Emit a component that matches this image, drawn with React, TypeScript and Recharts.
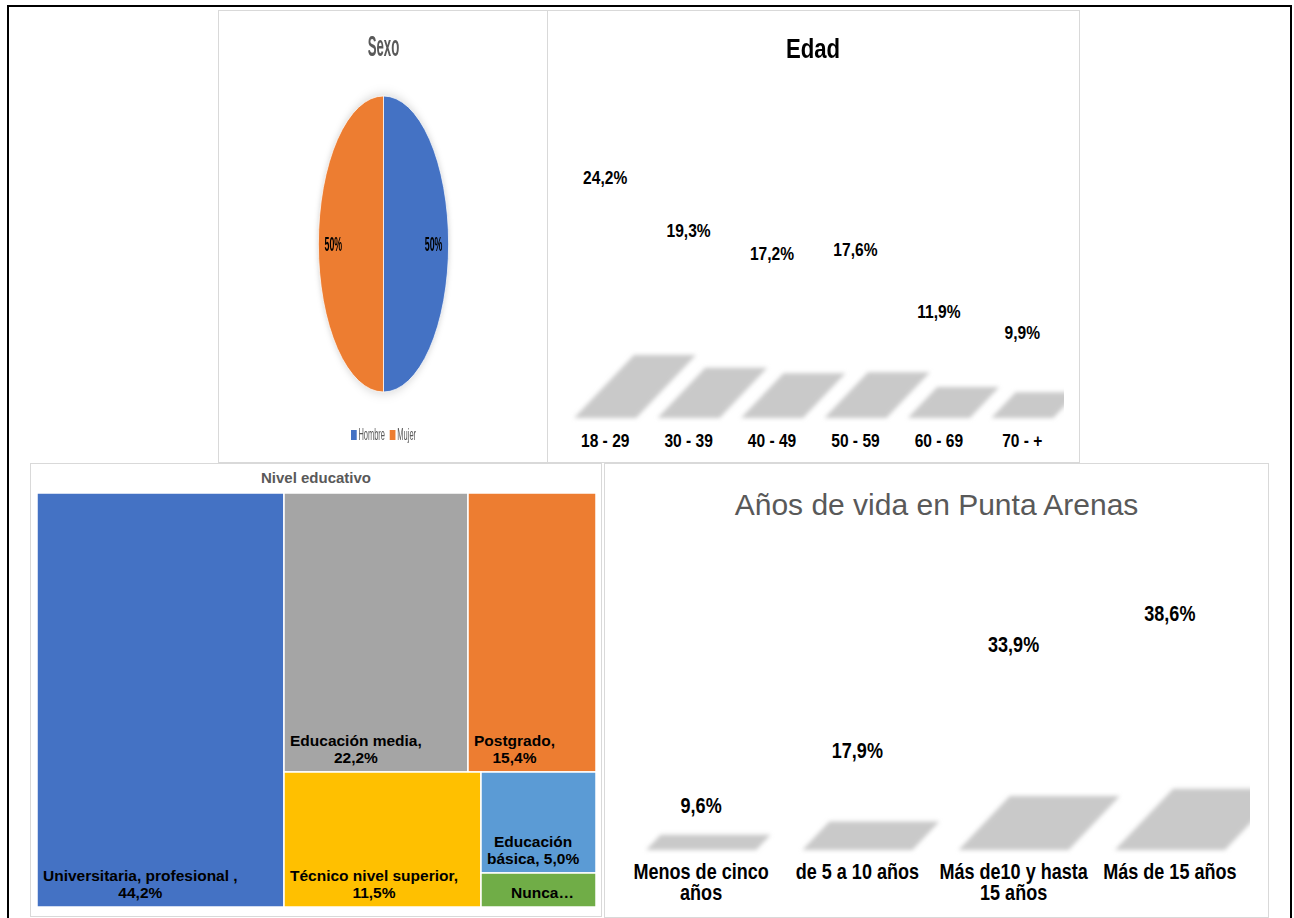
import React from 'react';
import { PieChart, Pie, Cell, BarChart, Bar, XAxis, YAxis, LabelList, Treemap } from 'recharts';

// ---------- data ----------
const sexNames = ['Hombre', 'Mujer'];
const sexValues = [50, 50];
const sexColors = ['#4472C4', '#ED7D31'];

const ageCategories = ['18 - 29', '30 - 39', '40 - 49', '50 - 59', '60 - 69', '70 - +'];
const ageValues = [24.2, 19.3, 17.2, 17.6, 11.9, 9.9];

const eduNames = ['Universitaria, profesional ', 'Educación media', 'Postgrado', 'Técnico nivel superior', 'Educación básica', 'Nunca asistió'];
const eduValues = [44.2, 22.2, 15.4, 11.5, 5.0, 1.7];
const eduColors = ['#4472C4', '#A5A5A5', '#ED7D31', '#FFC000', '#5B9BD5', '#70AD47'];

const yearsCategories = ['Menos de cinco años', 'de 5 a 10 años', 'Más de10 y hasta 15 años', 'Más de 15 años'];
const yearsValues = [9.6, 17.9, 33.9, 38.6];

// ---------- helpers ----------
const FONT = "'Liberation Sans', Arial, sans-serif";
const SQ = 0.82; // horizontal squeeze of the bar-chart texts
const fmt = (v: number) => v.toFixed(1).replace('.', ',') + '%';

let ctx: CanvasRenderingContext2D | null = null;
function measure(text: string, font: string) {
  if (!ctx) ctx = document.createElement('canvas').getContext('2d');
  if (!ctx) return text.length * 8;
  ctx.font = font;
  return ctx.measureText(text).width;
}
function wrap(text: string, font: string, maxW: number, scale = 1) {
  const words = text.split(' ').filter((w) => w.length);
  const lines: string[] = [];
  let cur = '';
  for (const w of words) {
    const t = cur ? cur + ' ' + w : w;
    if (cur && measure(t, font) * scale > maxW) {
      lines.push(cur);
      cur = w;
    } else cur = t;
  }
  if (cur) lines.push(cur);
  return lines;
}

const sexData = sexNames.map((n, i) => ({ name: n, value: sexValues[i] }));
const ageData = ageCategories.map((n, i) => ({ name: n, value: ageValues[i] }));
const eduData = eduNames.map((n, i) => ({ name: n, value: eduValues[i], tileColor: eduColors[i] }));
const yearsData = yearsCategories.map((n, i) => ({ name: n, value: yearsValues[i] }));

// ---------- shadow bars ----------
const makeShadow = (factor: number) => (props: any) => {
  const { x, y, width, height } = props;
  if (!isFinite(x) || !isFinite(y) || !height) return <g />;
  const base = y + height;
  const h = height * factor;
  const s = h * 0.95;
  const pts = `${x},${base} ${x + width},${base} ${x + width + s},${base - h} ${x + s},${base - h}`;
  return <polygon points={pts} fill="#c9c9c9" filter="url(#shadowBlur)" />;
};

const makeValueLabel = (offset: number, size: number) => (props: any) => {
  const vb = props.viewBox && props.viewBox.width !== undefined ? props.viewBox : props;
  const cx = Number(vb.x) + Number(vb.width) / 2;
  const cy = Number(vb.y) + offset;
  return (
    <text
      transform={`translate(${cx},${cy}) scale(${SQ},1)`}
      textAnchor="middle"
      dominantBaseline="central"
      fontFamily={FONT}
      fontWeight="bold"
      fontSize={size}
      fill="#000"
    >
      {fmt(Number(props.value))}
    </text>
  );
};

const AgeTick = (props: any) => {
  const { x, y, payload } = props;
  return (
    <text
      transform={`translate(${x},${y + 22}) scale(${SQ},1)`}
      textAnchor="middle"
      dominantBaseline="central"
      fontFamily={FONT}
      fontWeight="bold"
      fontSize={19}
      fill="#000"
    >
      {payload.value}
    </text>
  );
};

const YEARS_W = 645;
const YEARS_ML = 18;
const YEARS_MR = 2;
const YEARS_BAND = (YEARS_W - YEARS_ML - YEARS_MR) / yearsCategories.length;

const YearsTick = (props: any) => {
  const { x, y, payload } = props;
  const lines = wrap(String(payload.value), `bold 22px ${FONT}`, YEARS_BAND, SQ);
  return (
    <text
      transform={`translate(${x},${y + 21}) scale(${SQ},1)`}
      textAnchor="middle"
      dominantBaseline="central"
      fontFamily={FONT}
      fontWeight="bold"
      fontSize={22}
      fill="#000"
    >
      {lines.map((l, i) => (
        <tspan key={i} x={0} dy={i === 0 ? 0 : 21}>
          {l}
        </tspan>
      ))}
    </text>
  );
};

// ---------- pie ----------
const SX = 0.44;
const RAD = Math.PI / 180;
const sexLabel = (p: any) => {
  const r = p.outerRadius * 0.77;
  const x = p.cx + r * Math.cos(-p.midAngle * RAD);
  const y = p.cy + r * Math.sin(-p.midAngle * RAD);
  return (
    <text x={x} y={y} textAnchor="middle" dominantBaseline="central" fontFamily={FONT} fontWeight="bold" fontSize={20} fill="#000">
      {`${Math.round(p.percent * 100)}%`}
    </text>
  );
};

// ---------- treemap ----------
const TM_FONT_SIZE = 15.5;
const TM_FONT = `bold ${TM_FONT_SIZE}px ${FONT}`;
const TreemapCell = (props: any) => {
  const { x, y, width, height, depth, name, value, tileColor } = props;
  if (depth !== 1) return <g />;
  const maxW = width - 8;
  let lines = wrap(`${name}, ${fmt(Number(value))}`, TM_FONT, maxW);
  const maxLines = Math.max(1, Math.floor((height - 6) / 17));
  let truncated = false;
  if (lines.length > maxLines) {
    lines = lines.slice(0, maxLines);
    let words = lines[maxLines - 1].split(' ');
    while (words.length > 1 && measure(words.join(' ') + '…', TM_FONT) > maxW - 8) words = words.slice(0, -1);
    lines[maxLines - 1] = words.join(' ').replace(/,$/, '') + '…';
    truncated = true;
  }
  const blockW = Math.max(...lines.map((l) => measure(l, TM_FONT)));
  const cx = truncated ? x + width / 2 + 4 : x + 6 + blockW / 2;
  const lastBase = y + height - 9;
  return (
    <g>
      <rect x={x} y={y} width={width} height={height} fill={tileColor} stroke="#fff" strokeWidth={1.5} />
      <text textAnchor="middle" fontFamily={FONT} fontWeight="bold" fontSize={TM_FONT_SIZE} fill="#000">
        {lines.map((l, i) => (
          <tspan key={i} x={cx} y={lastBase - (lines.length - 1 - i) * 17}>
            {l}
          </tspan>
        ))}
      </text>
    </g>
  );
};

const panel = (left: number, top: number, width: number, height: number): React.CSSProperties => ({
  position: 'absolute',
  left,
  top,
  width,
  height,
  border: '1px solid #d9d9d9',
  boxSizing: 'border-box',
  background: '#fff',
});

export default function App() {
  const sexInnerW = 329 / SX;
  return (
    <div style={{ position: 'fixed', left: 0, top: 0, width: 1294, height: 918, background: '#fff', overflow: 'hidden', fontFamily: FONT }}>
      <svg width={0} height={0} style={{ position: 'absolute' }}>
        <defs>
          <filter id="shadowBlur" x="-50%" y="-50%" width="200%" height="200%">
            <feGaussianBlur stdDeviation="2.2" />
          </filter>
        </defs>
      </svg>

      {/* outer frame */}
      <div style={{ position: 'absolute', left: 7, top: 5, width: 1285, height: 930, border: '2px solid #000', boxSizing: 'border-box' }} />

      {/* ---- Sexo ---- */}
      <div style={{ ...panel(218, 10, 330, 453), overflow: 'hidden' }}>
        <div style={{ position: 'absolute', left: 0, top: 0, width: sexInnerW, height: 451, transform: `scaleX(${SX})`, transformOrigin: '0 0' }}>
          <div style={{ position: 'absolute', left: 0, top: 17, width: sexInnerW, height: 36, lineHeight: '36px', textAlign: 'center', fontSize: 30, fontWeight: 'bold', color: '#595959' }}>
            Sexo
          </div>
          <div style={{ position: 'absolute', left: 0, top: 0, filter: 'drop-shadow(0px 0px 6px rgba(0,0,0,0.18))' }}>
            <PieChart width={sexInnerW} height={451} margin={{ top: 0, right: 0, bottom: 0, left: 0 }}>
              <Pie
                data={sexData}
                dataKey="value"
                nameKey="name"
                cx={sexInnerW / 2}
                cy={233}
                outerRadius={148}
                startAngle={90}
                endAngle={-270}
                stroke="#fff"
                strokeWidth={1}
                label={sexLabel}
                labelLine={false}
                isAnimationActive={false}
              >
                {sexData.map((d, i) => (
                  <Cell key={d.name} fill={sexColors[i]} />
                ))}
              </Pie>
            </PieChart>
          </div>
          <div style={{ position: 'absolute', left: 0, top: 414, width: sexInnerW, height: 20, display: 'flex', justifyContent: 'center', alignItems: 'center', fontSize: 17, color: '#595959' }}>
            {sexNames.map((n, i) => (
              <div key={n} style={{ display: 'flex', alignItems: 'center', marginLeft: i ? 11 : 0 }}>
                <div style={{ width: 13, height: 10, background: sexColors[i], marginRight: 4 }} />
                <span>{n}</span>
              </div>
            ))}
          </div>
        </div>
      </div>

      {/* ---- Edad ---- */}
      <div style={panel(547, 10, 533, 453)}>
        <div style={{ position: 'absolute', left: 0, top: 21, width: 531, height: 34, lineHeight: '34px', textAlign: 'center' }}>
          <span style={{ display: 'inline-block', fontSize: 27, fontWeight: 'bold', color: '#000', transform: `scaleX(${SQ})` }}>Edad</span>
        </div>
      </div>
      <div style={{ position: 'absolute', left: 547, top: 10 }}>
        <BarChart width={517} height={452} data={ageData} margin={{ top: 83, right: 0, bottom: 0, left: 16.5 }} barCategoryGap="12.8%">
          <XAxis dataKey="name" axisLine={false} tickLine={false} tickSize={0} tickMargin={0} height={44} interval={0} tick={<AgeTick />} />
          <YAxis hide domain={[0, 30]} />
          <Bar dataKey="value" fill="none" shape={makeShadow(0.24)} isAnimationActive={false}>
            <LabelList dataKey="value" content={makeValueLabel(22, 19)} />
          </Bar>
        </BarChart>
      </div>

      {/* ---- Nivel educativo ---- */}
      <div style={panel(30, 463, 572, 454)}>
        <div style={{ position: 'absolute', left: 0, top: 4, width: 570, height: 20, lineHeight: '20px', textAlign: 'center', fontSize: 15, fontWeight: 'bold', color: '#595959' }}>
          Nivel educativo
        </div>
      </div>
      <div style={{ position: 'absolute', left: 37, top: 493 }}>
        <Treemap
          width={559}
          height={414}
          data={eduData}
          dataKey="value"
          nameKey="name"
          aspectRatio={1.15}
          isAnimationActive={false}
          content={<TreemapCell />}
        />
      </div>

      {/* ---- Años de vida ---- */}
      <div style={panel(604, 463, 665, 455)}>
        <div style={{ position: 'absolute', left: 0, top: 21, width: 663, height: 40, lineHeight: '40px', textAlign: 'center', fontSize: 30, color: '#595959' }}>
          Años de vida en Punta Arenas
        </div>
      </div>
      <div style={{ position: 'absolute', left: 605, top: 464 }}>
        <BarChart width={YEARS_W} height={453} data={yearsData} margin={{ top: 88, right: YEARS_MR, bottom: 0, left: YEARS_ML }} barCategoryGap="14.8%">
          <XAxis dataKey="name" axisLine={false} tickLine={false} tickSize={0} tickMargin={0} height={67} interval={0} tick={<YearsTick />} />
          <YAxis hide domain={[0, 45]} />
          <Bar dataKey="value" fill="none" shape={makeShadow(0.24)} isAnimationActive={false}>
            <LabelList dataKey="value" content={makeValueLabel(18.6, 22)} />
          </Bar>
        </BarChart>
      </div>
    </div>
  );
}
